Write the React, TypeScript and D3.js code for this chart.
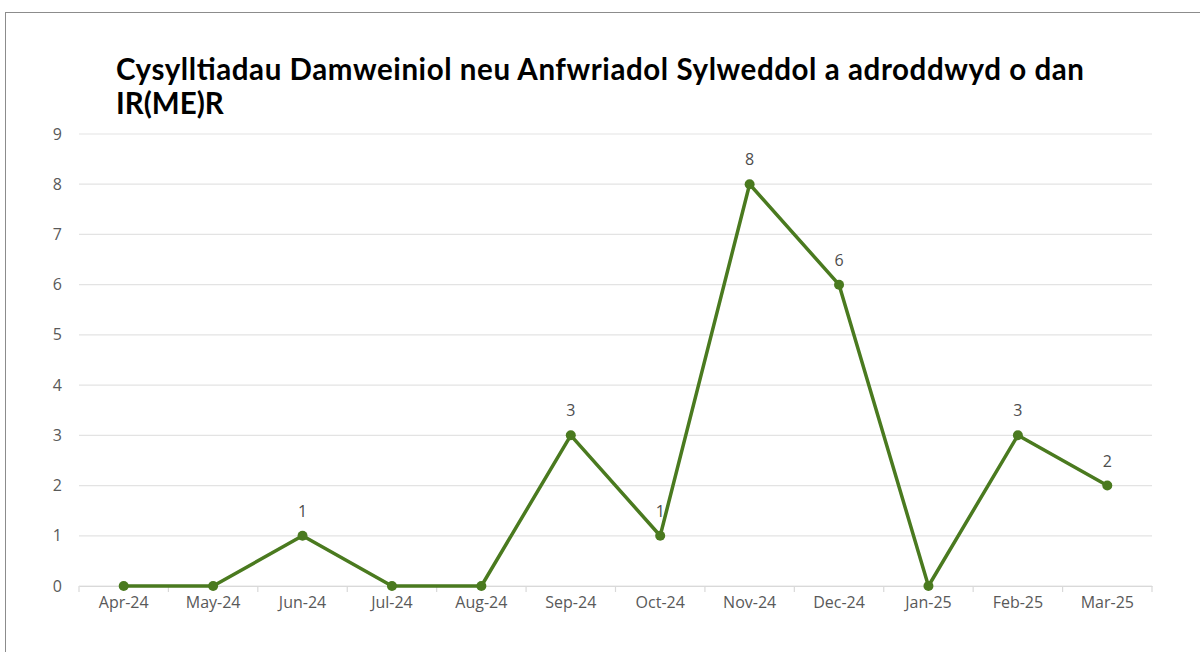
import React, { useEffect, useRef } from 'react';
import * as d3 from 'd3';

const months = ['Apr-24', 'May-24', 'Jun-24', 'Jul-24', 'Aug-24', 'Sep-24', 'Oct-24', 'Nov-24', 'Dec-24', 'Jan-25', 'Feb-25', 'Mar-25'];
const counts = [0, 0, 1, 0, 0, 3, 1, 8, 6, 0, 3, 2];
const yTicks = [0, 1, 2, 3, 4, 5, 6, 7, 8, 9];
const titleLines = ['Cysylltiadau Damweiniol neu Anfwriadol Sylweddol a adroddwyd o dan', 'IR(ME)R'];

const W = 1200;
const H = 652;
const m = { left: 79, right: 1152, top: 134, bottom: 586 };
const green = '#4a7a1f';
const labelFont = '"Open Sans", "Noto Sans", sans-serif';

export default function App() {
  const ref = useRef<SVGSVGElement>(null);

  useEffect(() => {
    const svg = d3.select(ref.current);
    svg.selectAll('*').remove();

    // frame
    svg.append('rect')
      .attr('x', 5.5).attr('y', 12.5)
      .attr('width', W).attr('height', H)
      .attr('fill', '#fff').attr('stroke', '#8c8c8c');

    svg.append('g').selectAll('text').data(titleLines).enter()
      .append('text')
      .attr('x', 116)
      .attr('y', (d, i) => 80 + i * 34)
      .attr('font-family', 'Lato, "Liberation Sans", sans-serif')
      .attr('font-weight', 'bold')
      .attr('font-size', 29.5)
      .attr('fill', '#000')
      .attr('textLength', (d, i) => (i === 0 ? 968 : null))
      .attr('lengthAdjust', 'spacing')
      .text(d => d);

    const x = d3.scaleBand().domain(months).range([m.left, m.right]);
    const y = d3.scaleLinear().domain([0, 9]).range([m.bottom, m.top]);

    // grid
    svg.append('g').selectAll('line').data(yTicks).enter()
      .append('line')
      .attr('x1', m.left).attr('x2', m.right)
      .attr('y1', d => y(d)).attr('y2', d => y(d))
      .attr('stroke', '#e3e3e3').attr('stroke-width', 1.2);

    // y labels
    svg.append('g').selectAll('text').data(yTicks).enter()
      .append('text')
      .attr('x', 62)
      .attr('y', d => y(d) + 5.5)
      .attr('text-anchor', 'end')
      .attr('font-family', labelFont)
      .attr('font-size', 16)
      .attr('fill', '#595959')
      .text(d => d);

    // x axis
    const xAxis = svg.append('g').attr('transform', `translate(0,${m.bottom})`)
      .call(d3.axisBottom(x).tickSize(0).tickPadding(11));
    xAxis.select('.domain').attr('stroke', '#d9d9d9').attr('stroke-width', 1.2);
    xAxis.selectAll('text')
      .attr('font-family', labelFont)
      .attr('font-size', 16)
      .attr('fill', '#595959');
    const bounds = months.map(mn => x(mn) as number).concat([m.right]);
    xAxis.selectAll('.sep').data(bounds).enter()
      .append('line')
      .attr('x1', d => d).attr('x2', d => d)
      .attr('y1', 0).attr('y2', 6)
      .attr('stroke', '#d9d9d9').attr('stroke-width', 1.2);

    const cx = (i: number) => (x(months[i]) as number) + x.bandwidth() / 2;

    const line = d3.line<number>()
      .x((d, i) => cx(i))
      .y(d => y(d));

    svg.append('path')
      .datum(counts)
      .attr('d', line)
      .attr('fill', 'none')
      .attr('stroke', green)
      .attr('stroke-width', 3.5)
      .attr('stroke-linejoin', 'round');

    svg.append('g').selectAll('circle').data(counts).enter()
      .append('circle')
      .attr('cx', (d, i) => cx(i))
      .attr('cy', d => y(d))
      .attr('r', 5)
      .attr('fill', green);

    svg.append('g').selectAll('text').data(counts.map((v, i) => ({ v, i })).filter(d => d.v > 0)).enter()
      .append('text')
      .attr('x', d => cx(d.i))
      .attr('y', d => y(d.v) - 19)
      .attr('text-anchor', 'middle')
      .attr('font-family', labelFont)
      .attr('font-size', 16)
      .attr('fill', '#4d4d4d')
      .text(d => d.v);
  }, []);

  return (
    <svg
      ref={ref}
      width={W}
      height={H}
      style={{ position: 'absolute', left: 0, top: 0, display: 'block' }}
    />
  );
}
